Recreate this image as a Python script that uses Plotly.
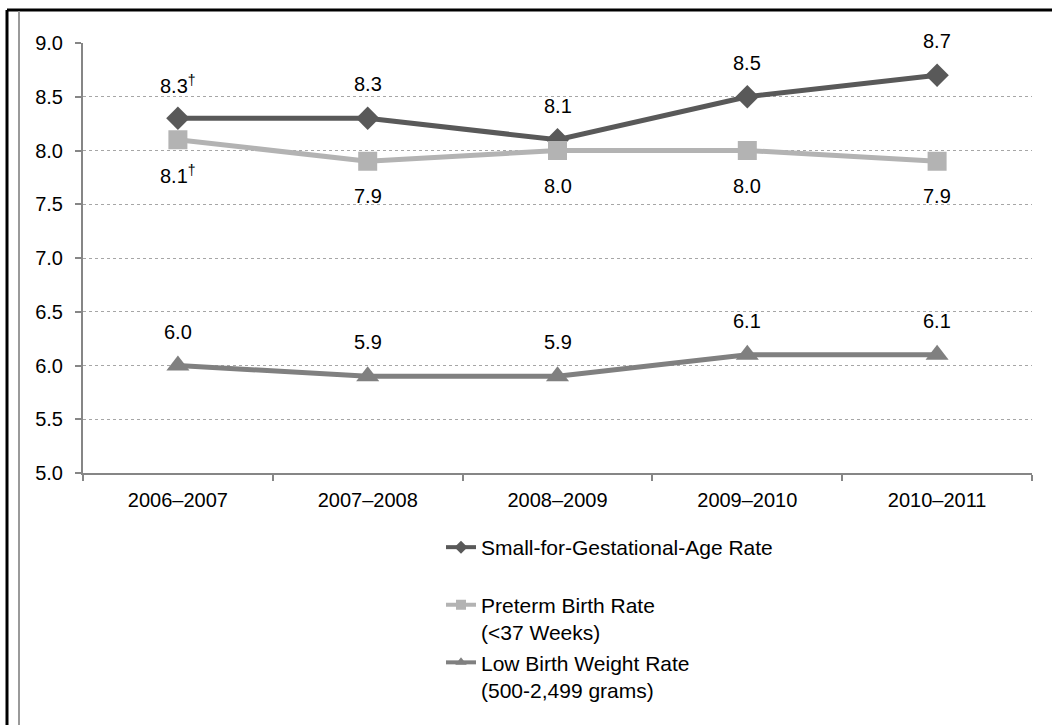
import plotly.graph_objects as go

# Data
periods = ["2006–2007", "2007–2008", "2008–2009", "2009–2010", "2010–2011"]
sga_rate = [8.3, 8.3, 8.1, 8.5, 8.7]
preterm_rate = [8.1, 7.9, 8.0, 8.0, 7.9]
lbw_rate = [6.0, 5.9, 5.9, 6.1, 6.1]
# footnote marks attached to individual value labels
sga_marks = ["†", "", "", "", ""]
preterm_marks = ["†", "", "", "", ""]
lbw_marks = ["", "", "", "", ""]

series = [
    dict(name="Small-for-Gestational-Age Rate<br> ", y=sga_rate, marks=sga_marks,
         color="#595959", symbol="diamond", size=18, shift=34),
    dict(name="Preterm Birth Rate<br>(<37 Weeks)", y=preterm_rate, marks=preterm_marks,
         color="#b3b3b3", symbol="square", size=19, shift=-35),
    dict(name="Low Birth Weight Rate<br>(500-2,499 grams)", y=lbw_rate, marks=lbw_marks,
         color="#808080", symbol="triangle-up", size=20, shift=34),
]

FONT = "Liberation Sans, Arial, sans-serif"

fig = go.Figure()
annotations = []
for i, s in enumerate(series):
    fig.add_trace(go.Scatter(
        x=periods, y=s["y"], name=s["name"], mode="lines+markers",
        line=dict(color=s["color"], width=5),
        marker=dict(symbol=s["symbol"], size=s["size"], color=s["color"]),
        showlegend=False,
    ))
    # legend key drawn with a smaller marker on a thinner line
    fig.add_trace(go.Scatter(
        x=[None], y=[None], name=s["name"], mode="lines+markers",
        line=dict(color=s["color"], width=4),
        marker=dict(symbol=s["symbol"], size=10, color=s["color"]),
        legendgroup=f"g{i}", hoverinfo="skip",
    ))
    for xv, yv, mk in zip(periods, s["y"], s["marks"]):
        txt = f"{yv:.1f}" + (f"<sup>{mk}</sup>" if mk else "")
        annotations.append(dict(
            x=xv, y=yv, xref="x", yref="y", text=txt, showarrow=False,
            yshift=s["shift"], font=dict(family=FONT, size=20, color="#000000"),
        ))

# plot area spans x 83..1032 px, y 43..473 px
L, R, T, B = 83, 1032, 43, 473
def px(xp):
    return (xp - L) / (R - L)
def py(yp):
    return (B - yp) / (B - T)

shapes = [
    # outer black frame (top and left)
    dict(type="line", xref="paper", yref="paper", x0=px(7), x1=px(1052), y0=py(10), y1=py(10),
         line=dict(color="#000000", width=3)),
    dict(type="line", xref="paper", yref="paper", x0=px(7), x1=px(7), y0=py(10), y1=py(725),
         line=dict(color="#000000", width=3)),
    # inner gray frame edge
    dict(type="line", xref="paper", yref="paper", x0=px(19), x1=px(19), y0=py(11), y1=py(725),
         line=dict(color="#9a9a9a", width=2)),
]

fig.update_layout(
    width=1052, height=725,
    margin=dict(l=L, r=1052 - R, t=T, b=725 - B, autoexpand=False),
    paper_bgcolor="#ffffff", plot_bgcolor="#ffffff",
    font=dict(family=FONT, size=20, color="#000000"),
    annotations=annotations, shapes=shapes,
    showlegend=True,
    legend=dict(
        x=px(441), y=py(527), xanchor="left", yanchor="top",
        font=dict(family=FONT, size=21, color="#000000"),
        traceorder="grouped", tracegroupgap=0, valign="top",
        bgcolor="rgba(0,0,0,0)", itemwidth=30,
    ),
)
fig.update_xaxes(
    type="category", range=[-0.5, 4.5], tickson="boundaries",
    showline=True, linecolor="#868686", linewidth=2,
    ticks="outside", ticklen=6, tickcolor="#868686", tickwidth=2,
    showgrid=False, zeroline=False, automargin=False, ticklabelstandoff=8,
    tickfont=dict(family=FONT, size=20, color="#000000"),
)
fig.update_yaxes(
    range=[5, 9], dtick=0.5, tickformat=".1f",
    showline=True, linecolor="#868686", linewidth=2,
    ticks="outside", ticklen=6, tickcolor="#868686", tickwidth=2,
    showgrid=True, gridcolor="#a6a6a6", gridwidth=1, griddash="dot",
    zeroline=False, ticklabelstandoff=8, automargin=False,
    tickfont=dict(family=FONT, size=20, color="#000000"),
)

fig.write_html("out.html")
